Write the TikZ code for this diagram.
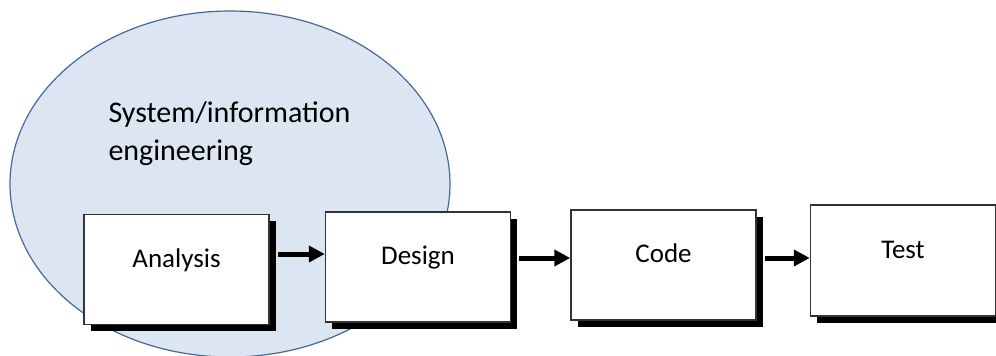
\documentclass[tikz,border=0pt]{standalone}
\usepackage{fontspec}
\setmainfont{Carlito}
\usetikzlibrary{shapes.geometric,shadows,arrows.meta}
\definecolor{scopefill}{HTML}{DCE6F2}
\definecolor{scopeline}{HTML}{4A6794}
\definecolor{boxline}{HTML}{333333}
\tikzset{
  phasebox/.style={draw=boxline, line width=1.5pt, fill=white,
    minimum width=185pt, minimum height=110pt, inner sep=0pt,
    text height=17pt, text depth=22pt,
    font=\fontsize{27}{30}\selectfont,
    drop shadow={shadow xshift=6.5pt, shadow yshift=-6.5pt, fill=black, opacity=1}},
  flow/.style={line width=5pt, -{Triangle[length=16pt,width=16pt]}}
}
\begin{document}
\begin{tikzpicture}[x=1pt,y=-1pt]
  \useasboundingbox (0,0) rectangle (996,356);
  % scope of system/information engineering
  \node[ellipse, draw=scopeline, line width=1.2pt, fill=scopefill,
        minimum width=440pt, minimum height=346pt, inner sep=0pt] (scope) at (230,184) {};
  \node[anchor=base west, align=left, font=\fontsize{30}{38}\selectfont] (scopelabel)
        at (105,160) {System/information\\engineering};
  % process phases
  \node[phasebox] (analysis) at (176.5,269.5) {Analysis};
  \node[phasebox] (design)   at (418,267)     {Design};
  \node[phasebox] (code)     at (663.5,265)   {Code};
  \node[phasebox, minimum height=111pt] (test) at (903,260.5) {Test};
  % flow between phases
  \draw[flow] ([xshift=8pt]analysis.east |- 0,254) -- (design.west |- 0,254);
  \draw[flow] ([xshift=8pt]design.east |- 0,258) -- (code.west |- 0,258);
  \draw[flow] ([xshift=8pt]code.east |- 0,258) -- (test.west |- 0,258);
\end{tikzpicture}
\end{document}
